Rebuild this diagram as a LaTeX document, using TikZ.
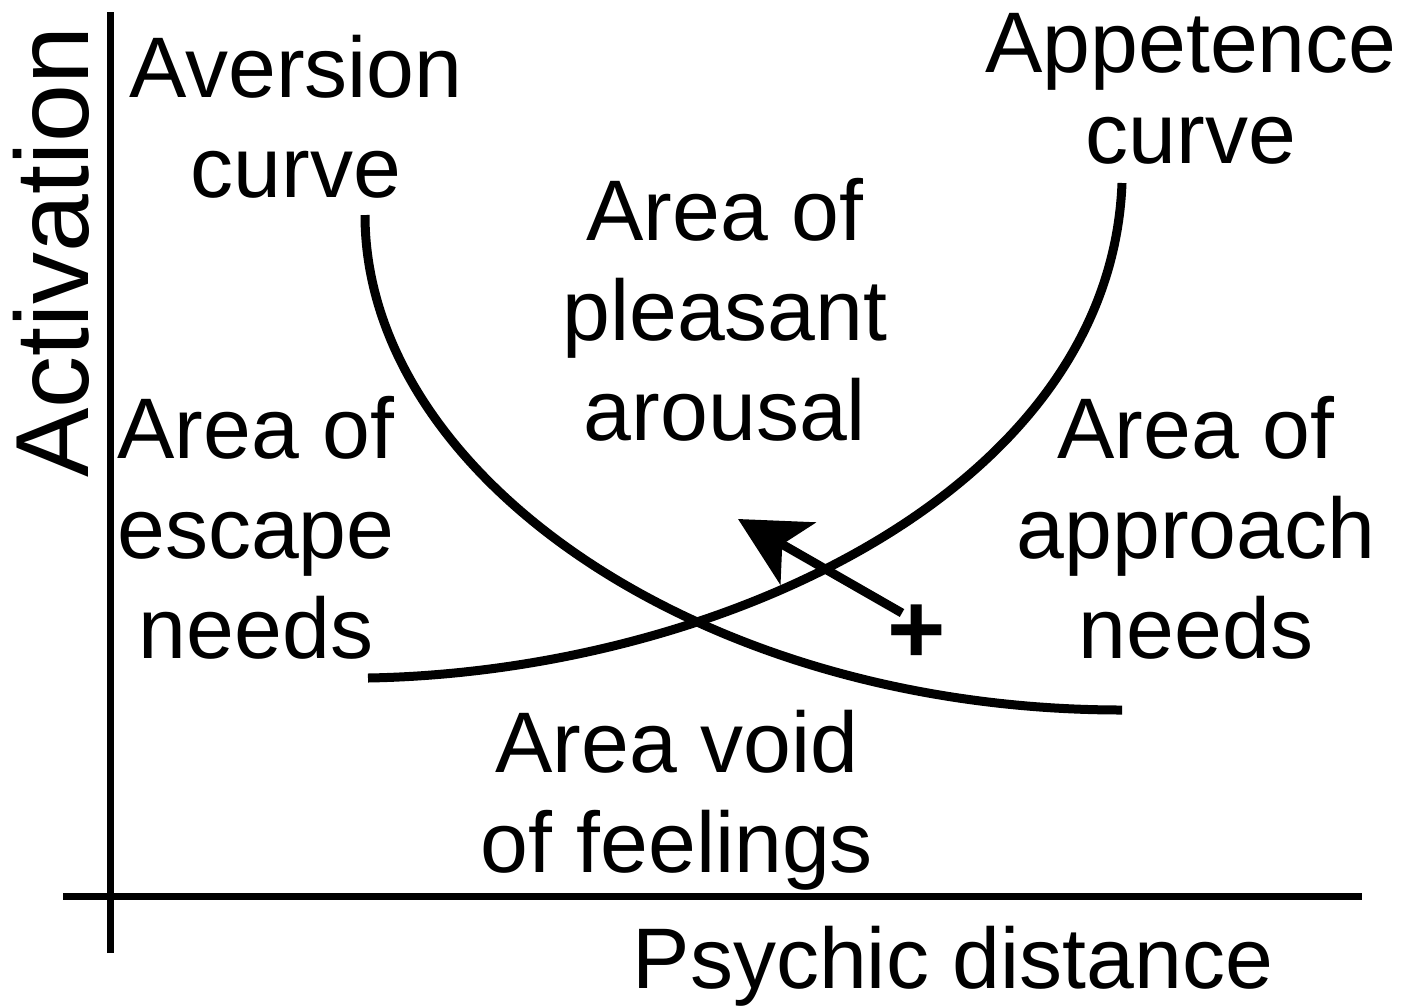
\documentclass[tikz,border=0pt]{standalone}
\usepackage{fontspec}
\setmainfont{Liberation Sans}
\usetikzlibrary{arrows.meta}

\begin{document}
\begin{tikzpicture}[x=1pt, y=-1pt, font=\fontsize{86}{100}\selectfont,
  lbl/.style={anchor=base, align=center, inner sep=0pt},
  axisline/.style={line width=7pt},
  curveline/.style={line width=9pt}]
  \useasboundingbox (0,0) rectangle (1405,1005);
  % axes
  \coordinate (ytop) at (110,12);
  \coordinate (ybot) at (110,953);
  \coordinate (xleft) at (63,896);
  \coordinate (xright) at (1362,896);
  \draw[axisline] (ybot) -- (ytop);
  \draw[axisline] (xleft) -- (xright);
  \node[lbl, rotate=90, font=\fontsize{104}{120}\selectfont] (act) at (88,252) {Activation};
  \node[lbl] (psy) at (953,988) {Psychic distance};
  % the two curves
  \draw[curveline] (365,215) .. controls (365,475) and (700,710) .. (1122,710);
  \draw[curveline] (1122,183) .. controls (1110,494) and (713,672) .. (368,678);
  % area labels (anchored on the last line)
  \node[lbl] (aversion) at (296,197) {Aversion\\curve};
  \node[lbl, font=\fontsize{86}{91}\selectfont] (appetence) at (1191,163) {Appetence\\curve};
  \node[lbl] (pleasant) at (725,440) {Area of\\pleasant\\arousal};
  \node[lbl] (escape) at (256,658) {Area of\\escape\\needs};
  \node[lbl] (approach) at (1196,658) {Area of\\approach\\needs};
  \node[lbl] (void) at (677,872) {Area void\\of feelings};
  % shift arrow
  \node[lbl, font=\fontsize{100}{100}\selectfont\bfseries] (plus) at (917,663) {+};
  \coordinate (push) at (902,613);
  \coordinate (goal) at (738,519);
  \draw[line width=9pt, -{Stealth[length=69pt, width=71pt, inset=18pt]}] (push) -- (goal);
\end{tikzpicture}
\end{document}
